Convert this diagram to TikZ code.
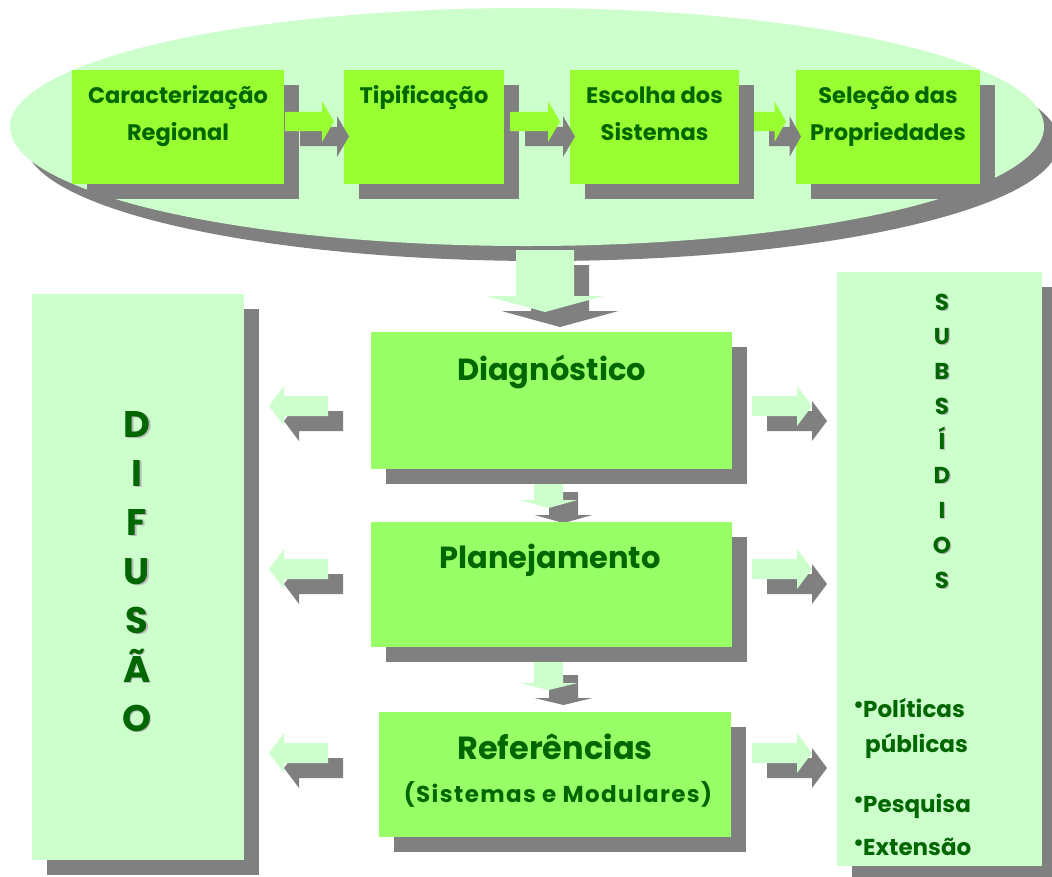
\documentclass[tikz,border=0pt]{standalone}
\usepackage{fontspec}
\setmainfont{Poppins}
\usetikzlibrary{shapes.geometric,shadows}
\definecolor{topgreen}{HTML}{99FF33}
\definecolor{midgreen}{HTML}{99FF66}
\definecolor{palegreen}{HTML}{CCFFCC}
\definecolor{shadowgray}{HTML}{808080}
\definecolor{txtgreen}{HTML}{006600}
\definecolor{lettershade}{HTML}{B8B8B8}
% horizontal block arrow: tail x, head base x, tip x, centre y, half shaft, half head, colour
\newcommand\hblock[7]{%
  \fill[shadowgray,shift={(15,15)}] (#1,#4-#5) -- (#2,#4-#5) -- (#2,#4-#6) -- (#3,#4) -- (#2,#4+#6) -- (#2,#4+#5) -- (#1,#4+#5) -- cycle;
  \fill[#7] (#1,#4-#5) -- (#2,#4-#5) -- (#2,#4-#6) -- (#3,#4) -- (#2,#4+#6) -- (#2,#4+#5) -- (#1,#4+#5) -- cycle;}
% vertical block arrow: top y, head base y, tip y, centre x, half shaft, half head, colour
\newcommand\vblock[7]{%
  \fill[shadowgray,shift={(15,15)}] (#4-#5,#1) -- (#4-#5,#2) -- (#4-#6,#2) -- (#4,#3) -- (#4+#6,#2) -- (#4+#5,#2) -- (#4+#5,#1) -- cycle;
  \fill[#7] (#4-#5,#1) -- (#4-#5,#2) -- (#4-#6,#2) -- (#4,#3) -- (#4+#6,#2) -- (#4+#5,#2) -- (#4+#5,#1) -- cycle;}
\newcommand\bul{\raisebox{5pt}{\fontsize{22}{22}\selectfont•}\hspace{-1pt}}
\begin{document}
\begin{tikzpicture}[x=1pt,y=-1pt,
  shadowed/.style={drop shadow={shadow xshift=15pt,shadow yshift=-15pt,fill=shadowgray,opacity=1}},
  box/.style={anchor=north west,inner sep=0pt,outer sep=0pt,draw=none,shadowed},
  txt/.style={text=txtgreen,inner sep=0pt,anchor=base},
  toptxt/.style={txt,font=\bfseries\fontsize{22.5}{28}\selectfont},
  midtxt/.style={txt,font=\bfseries\fontsize{30.5}{40}\selectfont},
  reftxt/.style={txt,font=\bfseries\fontsize{32}{40}\selectfont},
  subtxt/.style={txt,font=\bfseries\fontsize{23}{28}\selectfont\addfontfeature{LetterSpace=6}},
  bigletter/.style={txt,font=\bfseries\fontsize{37}{44}\selectfont},
  smallletter/.style={txt,font=\bfseries\fontsize{23}{28}\selectfont},
  bullettxt/.style={txt,anchor=base west,font=\bfseries\fontsize{23}{28}\selectfont}]
\useasboundingbox (0,0) rectangle (1052,876);
\clip (0,0) rectangle (1052,876);
\fill[white] (0,0) rectangle (1052,876);

% ---- top oval ----
\node[ellipse,inner sep=0pt,minimum width=1034pt,minimum height=238pt,fill=palegreen,shadowed] (oval) at (527,127) {};

% ---- top boxes ----
\node[box,fill=topgreen,minimum width=212pt,minimum height=114pt] (carac) at (72,70) {};
\node[box,fill=topgreen,minimum width=160pt,minimum height=114pt] (tipif) at (344,70) {};
\node[box,fill=topgreen,minimum width=169pt,minimum height=114pt] (escol) at (570,70) {};
\node[box,fill=topgreen,minimum width=184pt,minimum height=114pt] (selec) at (796,70) {};

\hblock{285}{322}{334}{121.5}{9.7}{20.5}{topgreen}
\hblock{510}{548}{560}{121.5}{9.7}{20.5}{topgreen}
\hblock{754}{774.5}{786}{121.5}{9.7}{20.5}{topgreen}

\node[toptxt] (carac1) at (178,103) {Caracterização};
\node[toptxt] (carac2) at (178,140) {Regional};
\node[toptxt] (tipif1) at (424,103) {Tipificação};
\node[toptxt] (escol1) at (654.5,103) {Escolha dos};
\node[toptxt] (escol2) at (654.5,140) {Sistemas};
\node[toptxt] (selec1) at (888,103) {Seleção das};
\node[toptxt] (selec2) at (888,140) {Propriedades};

% ---- big down arrow ----
\vblock{250}{296}{312}{545}{29}{58.5}{palegreen}

% ---- small down arrows (under the box shadows) ----
\vblock{477}{500}{508}{548.5}{14.5}{29}{palegreen}
\vblock{660}{683}{690}{548.5}{14.5}{29}{palegreen}

% ---- middle boxes ----
\node[box,fill=midgreen,minimum width=361pt,minimum height=137pt] (diag) at (371,332) {};
\node[box,fill=midgreen,minimum width=361pt,minimum height=125pt] (plan) at (371,522) {};
\node[box,fill=midgreen,minimum width=352pt,minimum height=125pt] (refer) at (379,712) {};

\node[midtxt] (diag1) at (551.5,380) {Diagnóstico};
\node[midtxt] (plan1) at (550,568) {Planejamento};
\node[reftxt] (refer1) at (555,759) {Referências};
\node[subtxt] (refer2) at (558,802) {(Sistemas e Modulares)};

% ---- side panels ----
\node[box,fill=palegreen,minimum width=212pt,minimum height=566pt] (difus) at (32,294) {};
\node[box,fill=palegreen,minimum width=205pt,minimum height=594pt] (subs) at (837,272) {};

% ---- side arrows ----
\foreach \cy in {406,569,753} {
  \hblock{328}{284}{269}{\cy}{10}{20}{palegreen}
  \hblock{752}{797}{812}{\cy}{10}{20}{palegreen}
}

% ---- DIFUSAO ----
\foreach \l [count=\i from 0] in {D,I,F,U,S,Ã,O} {
  \node[bigletter,text=lettershade] at (138.5,438.5+49*\i) {\l};
  \node[bigletter] (dif\i) at (137,437+49*\i) {\l};
}
% ---- SUBSIDIOS ----
\foreach \l [count=\i from 0] in {S,U,B,S,Í,D,I,O,S} {
  \node[smallletter,text=lettershade] at (943.2,311.2+34.75*\i) {\l};
  \node[smallletter] (sub\i) at (942,310+34.75*\i) {\l};
}
\node[bullettxt] (pol1) at (853,717) {\bul Políticas};
\node[bullettxt] (pol2) at (865,752) {públicas};
\node[bullettxt] (pesq) at (853,812) {\bul Pesquisa};
\node[bullettxt] (ext) at (853,855) {\bul Extensão};
\end{tikzpicture}
\end{document}
